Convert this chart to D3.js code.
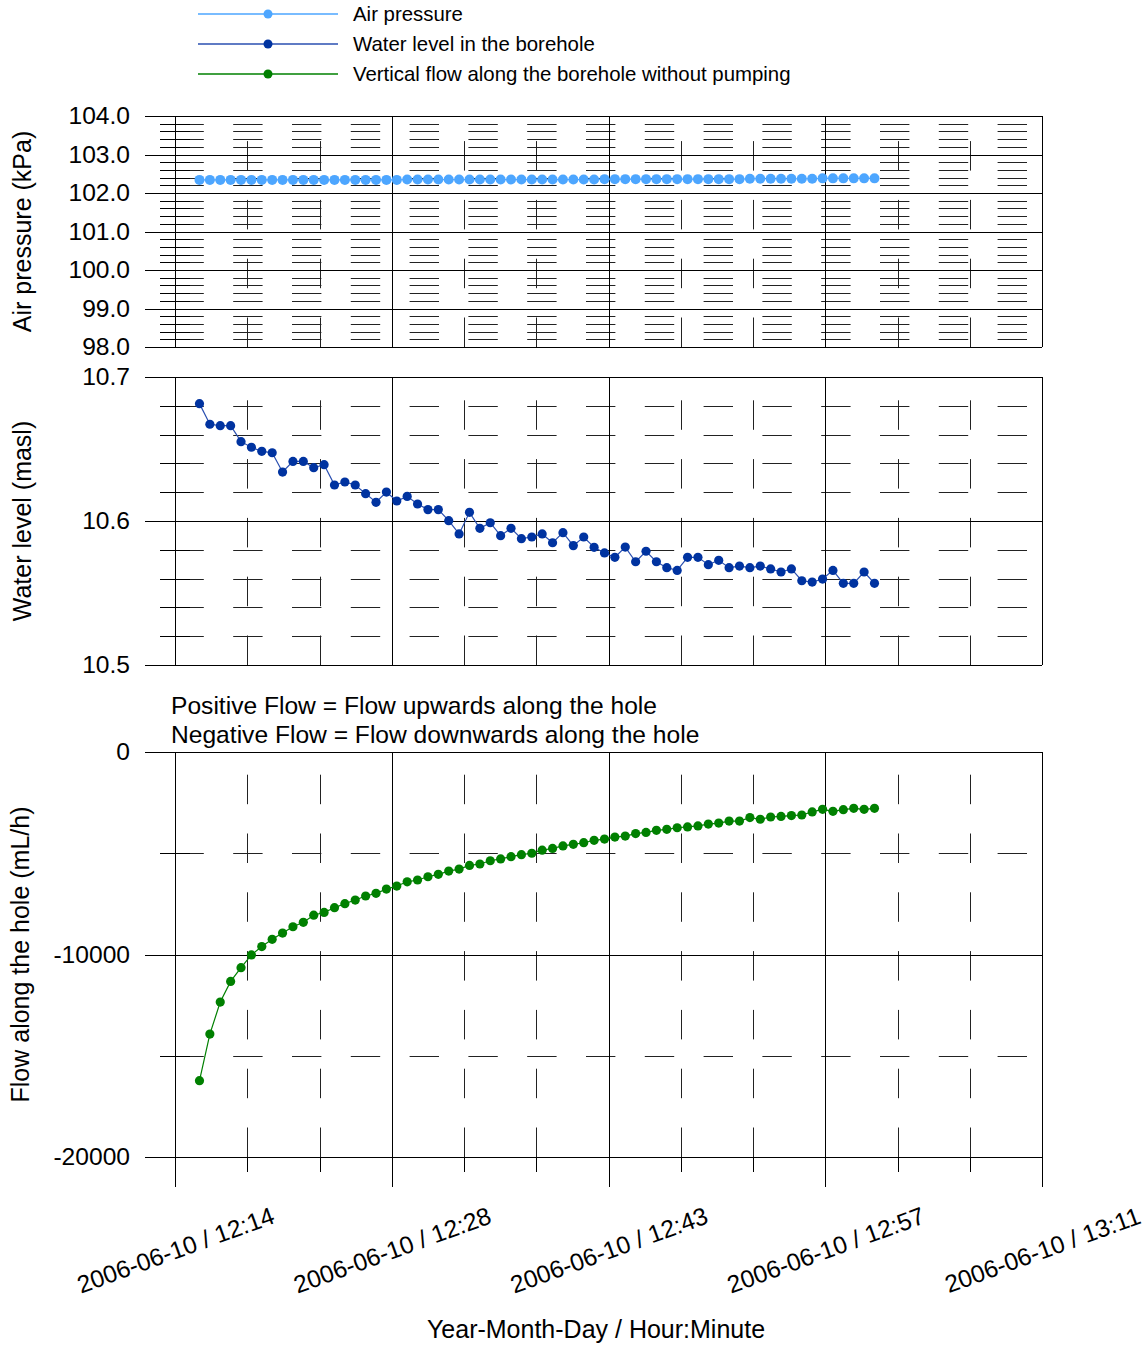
<!DOCTYPE html>
<html>
<head>
<meta charset="utf-8">
<script src="https://cdn.jsdelivr.net/npm/d3@7"></script>
<style>
  html, body { margin: 0; padding: 0; background: #fff; }
  svg { display: block; font-family: "Liberation Sans", Arial, sans-serif; }
</style>
</head>
<body>
<svg id="chart" width="1147" height="1345"></svg>
<script>
// ---- data ----
// sample times, minutes after 12:00 on 2006-06-10
const times = [
  15.62, 16.31, 17.00, 17.69, 18.38, 19.07, 19.76, 20.45, 21.14, 21.83,
  22.52, 23.21, 23.90, 24.59, 25.28, 25.97, 26.66, 27.35, 28.04, 28.73,
  29.42, 30.11, 30.80, 31.49, 32.18, 32.87, 33.56, 34.25, 34.94, 35.63,
  36.32, 37.01, 37.70, 38.39, 39.08, 39.77, 40.46, 41.15, 41.84, 42.53,
  43.22, 43.91, 44.60, 45.29, 45.98, 46.67, 47.36, 48.05, 48.74, 49.43,
  50.12, 50.81, 51.50, 52.19, 52.88, 53.57, 54.26, 54.95, 55.64, 56.33,
  57.02, 57.71, 58.40, 59.09, 59.78, 60.47
];
const airPressure = [
  102.34, 102.34, 102.34, 102.34, 102.34, 102.34, 102.34, 102.34, 102.34, 102.34,
  102.34, 102.34, 102.34, 102.34, 102.34, 102.34, 102.34, 102.34, 102.34, 102.34,
  102.35, 102.35, 102.35, 102.35, 102.35, 102.35, 102.35, 102.35, 102.35, 102.35,
  102.35, 102.35, 102.35, 102.35, 102.35, 102.35, 102.35, 102.35, 102.35, 102.36,
  102.36, 102.36, 102.36, 102.36, 102.36, 102.36, 102.36, 102.36, 102.36, 102.36,
  102.36, 102.36, 102.36, 102.37, 102.37, 102.37, 102.37, 102.37, 102.37, 102.37,
  102.38, 102.38, 102.38, 102.38, 102.38, 102.38
];
const waterLevel = [
  10.6815, 10.6672, 10.6662, 10.6662, 10.6551, 10.6512, 10.6484, 10.6474, 10.6340, 10.6414,
  10.6414, 10.6370, 10.6391, 10.6250, 10.6271, 10.6250, 10.6190, 10.6130, 10.6201, 10.6139,
  10.6171, 10.6118, 10.6079, 10.6079, 10.6002, 10.5910, 10.6060, 10.5949, 10.5988, 10.5898,
  10.5949, 10.5877, 10.5889, 10.5910, 10.5849, 10.5919, 10.5829, 10.5889, 10.5817, 10.5778,
  10.5748, 10.5819, 10.5717, 10.5790, 10.5717, 10.5676, 10.5657, 10.5748, 10.5748, 10.5697,
  10.5727, 10.5676, 10.5687, 10.5676, 10.5687, 10.5667, 10.5646, 10.5667, 10.5585, 10.5576,
  10.5597, 10.5657, 10.5567, 10.5567, 10.5646, 10.5567
];
const flow = [
  -16230, -13930, -12350, -11330, -10650, -10020, -9610, -9250, -8940, -8630,
  -8410, -8060, -7920, -7690, -7490, -7310, -7110, -6980, -6770, -6620,
  -6410, -6320, -6160, -6040, -5880, -5780, -5600, -5530, -5370, -5280,
  -5170, -5070, -5000, -4850, -4760, -4640, -4560, -4480, -4360, -4300,
  -4200, -4150, -4030, -3970, -3870, -3820, -3740, -3700, -3650, -3560,
  -3510, -3410, -3410, -3240, -3320, -3210, -3180, -3140, -3110, -2960,
  -2830, -2930, -2850, -2780, -2830, -2780
];
const xTickValues = [14.0, 28.4, 42.8, 57.2, 71.6];
const xTickLabels = ["2006-06-10 / 12:14", "2006-06-10 / 12:28", "2006-06-10 / 12:43", "2006-06-10 / 12:57", "2006-06-10 / 13:11"];
const xMinorValues = [18.8, 23.6, 33.2, 38.0, 47.6, 52.4, 62.0, 66.8];

const airMajor = [98, 99, 100, 101, 102, 103, 104];
const airMinor = [98.2,98.4,98.6,98.8, 99.2,99.4,99.6,99.8, 100.2,100.4,100.6,100.8, 101.2,101.4,101.6,101.8, 102.2,102.4,102.6,102.8, 103.2,103.4,103.6,103.8];
const waterMajor = [10.5, 10.6, 10.7];
const waterMinor = [10.52, 10.54, 10.56, 10.58, 10.62, 10.64, 10.66, 10.68];
const flowMajor = [-20000, -10000, 0];
const flowMinor = [-15000, -5000];

const legendItems = ["Air pressure", "Water level in the borehole", "Vertical flow along the borehole without pumping"];
const noteLines = ["Positive Flow = Flow upwards along the hole", "Negative Flow = Flow downwards along the hole"];

// ---- drawing ----
const svg = d3.select("#chart");
const X0 = 145, X1 = 1042;
const x = d3.scaleLinear().domain([12.0, 71.6]).range([X0, X1]);
const FONT = 24.6;
const TITLE_FONT = 25;
const colors = {
  air: {line: "#4da6ff", dot: "#4da6ff"},
  water: {line: "#2a4fb0", dot: "#0033a0"},
  flow: {line: "#008000", dot: "#008000"}
};

function panel(opts) {
  const {top, bottom, domain, major, minor, fmt, extendTicks, title, titleX, data, col, r} = opts;
  const y = d3.scaleLinear().domain(domain).range([bottom, top]);
  const g = svg.append("g");
  const grid = g.append("g").attr("stroke", "#000").attr("stroke-width", 1).attr("fill", "none");

  // minor horizontal gridlines (dashed)
  grid.selectAll("line.hmin").data(minor).join("line")
    .attr("x1", X0).attr("x2", X1)
    .attr("y1", d => Math.round(y(d)) + 0.5).attr("y2", d => Math.round(y(d)) + 0.5)
    .attr("stroke", "#222")
    .attr("stroke-dasharray", "29.4,29.4").attr("stroke-dashoffset", 29.4);
  // minor y ticks crossing axis
  grid.selectAll("line.ytick").data(minor).join("line")
    .attr("x1", 160).attr("x2", 190)
    .attr("y1", d => Math.round(y(d)) + 0.5).attr("y2", d => Math.round(y(d)) + 0.5);
  // minor vertical gridlines (dashed, from bottom)
  grid.selectAll("line.vmin").data(xMinorValues).join("line")
    .attr("x1", d => Math.round(x(d)) + 0.5).attr("x2", d => Math.round(x(d)) + 0.5)
    .attr("y1", bottom).attr("y2", top)
    .attr("stroke", "#222")
    .attr("stroke-dasharray", "29.5,29.3");
  // major horizontal gridlines
  grid.selectAll("line.hmaj").data(major).join("line")
    .attr("x1", X0).attr("x2", X1)
    .attr("y1", d => Math.round(y(d)) + 0.5).attr("y2", d => Math.round(y(d)) + 0.5);
  // major vertical gridlines
  grid.selectAll("line.vmaj").data(xTickValues).join("line")
    .attr("x1", d => Math.round(x(d)) + 0.5).attr("x2", d => Math.round(x(d)) + 0.5)
    .attr("y1", top).attr("y2", extendTicks ? bottom + 30 : bottom);
  if (extendTicks) {
    grid.selectAll("line.vminTick").data(xMinorValues).join("line")
      .attr("x1", d => Math.round(x(d)) + 0.5).attr("x2", d => Math.round(x(d)) + 0.5)
      .attr("y1", bottom).attr("y2", bottom + 15);
  }

  // y tick labels via axis
  const ax = g.append("g").attr("transform", `translate(${X0},0)`)
    .call(d3.axisLeft(y).tickValues(major).tickFormat(fmt).tickSize(0).tickPadding(15));
  ax.select(".domain").remove();
  ax.selectAll("text").attr("font-size", FONT).attr("fill", "#000")
    .attr("font-family", '"Liberation Sans", Arial, sans-serif');

  // y title
  g.append("text")
    .attr("transform", `translate(${titleX},${(top + bottom) / 2}) rotate(-90)`)
    .attr("text-anchor", "middle").attr("dy", "0.35em")
    .attr("font-size", TITLE_FONT).text(title);

  // series
  const pts = times.map((t, i) => [t, data[i]]);
  g.append("path").datum(pts)
    .attr("fill", "none").attr("stroke", col.line).attr("stroke-width", 1.2)
    .attr("d", d3.line().x(d => x(d[0])).y(d => y(d[1])));
  g.selectAll("circle").data(pts).join("circle")
    .attr("cx", d => x(d[0])).attr("cy", d => y(d[1])).attr("r", r)
    .attr("fill", col.dot);
  return y;
}

panel({top: 116, bottom: 347, domain: [98, 104], major: airMajor, minor: airMinor,
  fmt: d3.format(".1f"), extendTicks: false, title: "Air pressure (kPa)", titleX: 22,
  data: airPressure, col: colors.air, r: 5});
panel({top: 377, bottom: 665, domain: [10.5, 10.7], major: waterMajor, minor: waterMinor,
  fmt: d3.format(".1f"), extendTicks: false, title: "Water level (masl)", titleX: 22,
  data: waterLevel, col: colors.water, r: 4.6});
panel({top: 752, bottom: 1157, domain: [-20000, 0], major: flowMajor, minor: flowMinor,
  fmt: d => d3.format("d")(d).replace("\u2212", "-"), extendTicks: true, title: "Flow along the hole (mL/h)", titleX: 20,
  data: flow, col: colors.flow, r: 4.6});

// x tick labels (rotated)
const xa = svg.append("g").attr("transform", "translate(0,1250)")
  .call(d3.axisBottom(x).tickValues(xTickValues).tickFormat((d, i) => xTickLabels[i]).tickSize(0));
xa.select(".domain").remove();
xa.selectAll("text").attr("y", 0).attr("dy", "0.35em")
  .attr("transform", "rotate(-20)").attr("text-anchor", "middle")
  .attr("font-size", FONT).attr("fill", "#000")
  .attr("font-family", '"Liberation Sans", Arial, sans-serif');

// x title
svg.append("text").attr("x", 596).attr("y", 1329).attr("dy", "0.35em")
  .attr("text-anchor", "middle").attr("font-size", TITLE_FONT)
  .text("Year-Month-Day / Hour:Minute");

// notes
svg.selectAll("text.note").data(noteLines).join("text")
  .attr("x", 171).attr("y", (d, i) => 705 + i * 29).attr("dy", "0.35em")
  .attr("font-size", FONT).text(d => d);

// legend
const legCols = [colors.air, colors.water, colors.flow];
const leg = svg.append("g");
legendItems.forEach((name, i) => {
  const yy = 14 + i * 30;
  leg.append("line").attr("x1", 198).attr("x2", 338).attr("y1", yy).attr("y2", yy)
    .attr("stroke", legCols[i].line).attr("stroke-width", 1.5);
  leg.append("circle").attr("cx", 268).attr("cy", yy).attr("r", 4.5).attr("fill", legCols[i].dot);
  leg.append("text").attr("x", 353).attr("y", yy).attr("dy", "0.35em")
    .attr("font-size", 20.4).text(name);
});
</script>
</body>
</html>
